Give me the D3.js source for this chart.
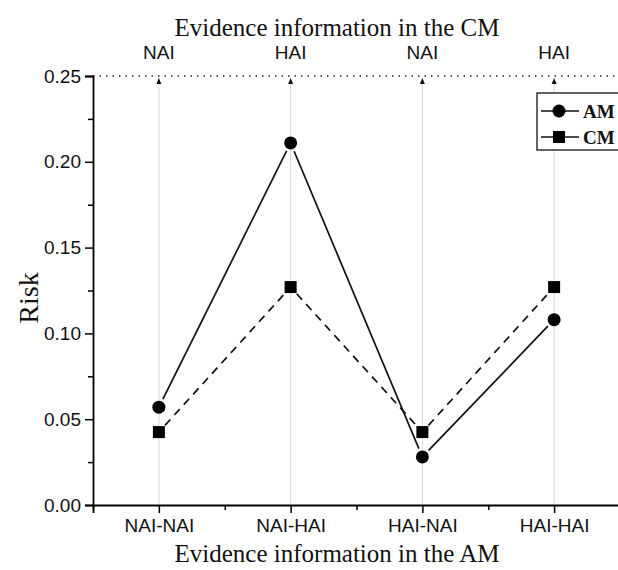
<!DOCTYPE html>
<html><head><meta charset="utf-8">
<script src="https://cdn.jsdelivr.net/npm/d3@7"></script>
<style>body{margin:0;background:#fff}svg{display:block}</style>
</head><body>
<svg id="c" width="618" height="570"></svg>
<script>
const categories = ["NAI-NAI", "NAI-HAI", "HAI-NAI", "HAI-HAI"];
const topLabels = ["NAI", "HAI", "NAI", "HAI"];
const amValues = [0.057, 0.211, 0.028, 0.108];
const cmValues = [0.0425, 0.127, 0.0425, 0.127];
const yTicks = [0, 0.05, 0.10, 0.15, 0.20, 0.25];
const yMinorTicks = [0.025, 0.075, 0.125, 0.175, 0.225];

(function () {
const svg = d3.select("#c");
const pLeft = 93, pRight = 620, pTop = 76, pBottom = 505;
const sans = "Liberation Sans, Arial, sans-serif";
const serif = "Liberation Serif, Times New Roman, serif";
const idx = categories.map((d, i) => i);
const x = d3.scaleLinear().domain([-0.5, 3.5]).range([pLeft, pRight]);
const y = d3.scaleLinear().domain([0, 0.25]).range([pBottom, pTop]);

// gridlines
svg.append("g").selectAll("line").data(idx).join("line")
  .attr("x1", d => x(d)).attr("x2", d => x(d))
  .attr("y1", y(0.25) + 4).attr("y2", y(0))
  .attr("stroke", "#d8d8d8").attr("stroke-width", 1);

// top dotted line
svg.append("line").attr("x1", pLeft).attr("x2", 618)
  .attr("y1", y(0.25)).attr("y2", y(0.25))
  .attr("stroke", "#222").attr("stroke-width", 1.5).attr("stroke-dasharray", "1.5,5");

// arrowheads
svg.append("g").selectAll("path").data(idx).join("path")
  .attr("d", d => `M${x(d)},${y(0.25) + 2} L${x(d) - 2.5},${y(0.25) + 8} L${x(d) + 2.5},${y(0.25) + 8} Z`)
  .attr("fill", "#111");

// top labels
svg.append("g").selectAll("text").data(idx).join("text")
  .attr("x", d => x(d)).attr("y", 59)
  .attr("text-anchor", "middle")
  .attr("font-family", sans).attr("font-size", 19).attr("fill", "#111")
  .text(d => topLabels[d]);

// top title
svg.append("text").attr("x", 337).attr("y", 36).attr("text-anchor", "middle")
  .attr("font-family", serif).attr("font-size", 25).attr("fill", "#111")
  .text("Evidence information in the CM");

// y axis
const yAxis = d3.axisLeft(y).tickValues(yTicks).tickFormat(d3.format(".2f")).tickSize(8).tickPadding(4);
const gy = svg.append("g").attr("transform", `translate(${pLeft},0)`).call(yAxis);
gy.select(".domain").attr("stroke-width", 1.8);
gy.selectAll(".tick line").attr("stroke-width", 1.5);
gy.selectAll("text").attr("font-family", sans).attr("font-size", 19).attr("fill", "#111");
const gym = svg.append("g").attr("transform", `translate(${pLeft},0)`)
  .call(d3.axisLeft(y).tickValues(yMinorTicks).tickSize(5).tickFormat(""));
gym.select(".domain").remove();
gym.selectAll(".tick line").attr("stroke-width", 1.5);

// x axis
const xAxis = d3.axisBottom(x).tickValues(idx).tickFormat(d => categories[d]).tickSize(8).tickPadding(6);
const gx = svg.append("g").attr("transform", `translate(0,${pBottom})`).call(xAxis);
gx.select(".domain").attr("stroke-width", 1.8);
gx.selectAll(".tick line").attr("stroke-width", 1.5);
gx.selectAll("text").attr("font-family", sans).attr("font-size", 19).attr("fill", "#111");
const gxm = svg.append("g").attr("transform", `translate(0,${pBottom})`)
  .call(d3.axisBottom(x).tickValues([-0.5, 0.5, 1.5, 2.5]).tickSize(5).tickFormat(""));
gxm.select(".domain").remove();
gxm.selectAll(".tick line").attr("stroke-width", 1.5);

// axis titles
svg.append("text").attr("x", 337).attr("y", 562).attr("text-anchor", "middle")
  .attr("font-family", serif).attr("font-size", 25).attr("fill", "#111")
  .text("Evidence information in the AM");
svg.append("text").attr("transform", `translate(38,298) rotate(-90)`).attr("text-anchor", "middle")
  .attr("font-family", serif).attr("font-size", 28).attr("fill", "#111")
  .text("Risk");

// series segments with gaps near markers
function segments(vals, gap) {
  const segs = [];
  for (let i = 0; i < vals.length - 1; i++) {
    const x1 = x(i), y1 = y(vals[i]), x2 = x(i + 1), y2 = y(vals[i + 1]);
    const L = Math.hypot(x2 - x1, y2 - y1), ux = (x2 - x1) / L, uy = (y2 - y1) / L;
    segs.push([x1 + ux * gap, y1 + uy * gap, x2 - ux * gap, y2 - uy * gap]);
  }
  return segs;
}
svg.append("g").selectAll("line").data(segments(cmValues, 9)).join("line")
  .attr("x1", d => d[0]).attr("y1", d => d[1]).attr("x2", d => d[2]).attr("y2", d => d[3])
  .attr("stroke", "#111").attr("stroke-width", 1.7).attr("stroke-dasharray", "8,6");
svg.append("g").selectAll("line").data(segments(amValues, 9)).join("line")
  .attr("x1", d => d[0]).attr("y1", d => d[1]).attr("x2", d => d[2]).attr("y2", d => d[3])
  .attr("stroke", "#111").attr("stroke-width", 1.7);

svg.append("g").selectAll("rect").data(cmValues).join("rect")
  .attr("x", (d, i) => x(i) - 6).attr("y", d => y(d) - 6).attr("width", 12).attr("height", 12).attr("fill", "#000");
svg.append("g").selectAll("circle").data(amValues).join("circle")
  .attr("cx", (d, i) => x(i)).attr("cy", d => y(d)).attr("r", 6.5).attr("fill", "#000");

// legend
const lg = svg.append("g");
lg.append("rect").attr("x", 537).attr("y", 93).attr("width", 100).attr("height", 57)
  .attr("fill", "#fff").attr("stroke", "#111").attr("stroke-width", 1.3);
[["AM", 111, "circle"], ["CM", 137, "square"]].forEach(([lab, yy, m]) => {
  lg.append("line").attr("x1", 541).attr("x2", 579).attr("y1", yy).attr("y2", yy).attr("stroke", "#111").attr("stroke-width", 1.5);
  if (m === "circle") lg.append("circle").attr("cx", 559).attr("cy", yy).attr("r", 6.5).attr("fill", "#000");
  else lg.append("rect").attr("x", 553).attr("y", yy - 6).attr("width", 12).attr("height", 12).attr("fill", "#000");
  lg.append("text").attr("x", 583).attr("y", yy + 6.5).attr("font-family", serif)
    .attr("font-weight", "bold").attr("font-size", 19).attr("fill", "#111").text(lab);
});
})();
</script>
</body></html>
